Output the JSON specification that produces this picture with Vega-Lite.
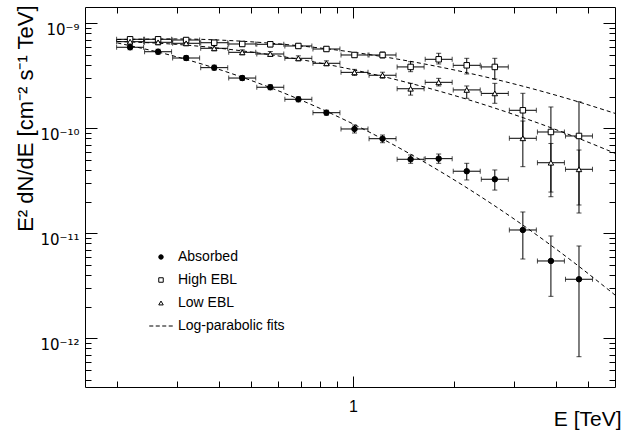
{
  "$schema": "https://vega.github.io/schema/vega-lite/v6.json",
  "width": 530,
  "height": 380,
  "autosize": {"type": "none"},
  "padding": {"left": 85, "top": 7, "right": 8, "bottom": 46},
  "background": "white",
  "config": {
    "font": "Liberation Sans",
    "view": {"stroke": "black", "strokeWidth": 1},
    "axis": {"domain": false, "grid": false, "tickColor": "black", "tickWidth": 1, "labelFont": "Liberation Sans", "titleFont": "Liberation Sans", "labelColor": "black", "titleColor": "black", "titleFontWeight": "normal", "labelFlush": false, "labelOverlap": false, "labelBound": false}
  },
  "datasets": {
    "pts": [
      {"s": "Absorbed", "E": 0.2182, "Elo": 0.1990, "Ehi": 0.2393, "v": 5.91e-10, "vlo": 5.60e-10, "vhi": 6.24e-10},
      {"s": "Absorbed", "E": 0.2642, "Elo": 0.2409, "Ehi": 0.2897, "v": 5.36e-10, "vlo": 5.07e-10, "vhi": 5.66e-10},
      {"s": "Absorbed", "E": 0.3200, "Elo": 0.2918, "Ehi": 0.3509, "v": 4.67e-10, "vlo": 4.42e-10, "vhi": 4.93e-10},
      {"s": "Absorbed", "E": 0.3877, "Elo": 0.3535, "Ehi": 0.4252, "v": 3.78e-10, "vlo": 3.58e-10, "vhi": 3.99e-10},
      {"s": "Absorbed", "E": 0.4695, "Elo": 0.4281, "Ehi": 0.5149, "v": 3.01e-10, "vlo": 2.85e-10, "vhi": 3.18e-10},
      {"s": "Absorbed", "E": 0.5687, "Elo": 0.5186, "Ehi": 0.6236, "v": 2.46e-10, "vlo": 2.33e-10, "vhi": 2.60e-10},
      {"s": "Absorbed", "E": 0.6889, "Elo": 0.6282, "Ehi": 0.7555, "v": 1.889e-10, "vlo": 1.788e-10, "vhi": 1.995e-10},
      {"s": "Absorbed", "E": 0.8346, "Elo": 0.7611, "Ehi": 0.9152, "v": 1.408e-10, "vlo": 1.333e-10, "vhi": 1.487e-10},
      {"s": "Absorbed", "E": 1.011, "Elo": 0.9219, "Ehi": 1.1087, "v": 9.85e-11, "vlo": 9.02e-11, "vhi": 1.075e-10},
      {"s": "Absorbed", "E": 1.2246, "Elo": 1.1167, "Ehi": 1.3429, "v": 7.96e-11, "vlo": 7.29e-11, "vhi": 8.63e-11},
      {"s": "Absorbed", "E": 1.4834, "Elo": 1.3527, "Ehi": 1.6267, "v": 5.07e-11, "vlo": 4.64e-11, "vhi": 5.57e-11},
      {"s": "Absorbed", "E": 1.7970, "Elo": 1.6387, "Ehi": 1.9706, "v": 5.14e-11, "vlo": 4.64e-11, "vhi": 5.69e-11},
      {"s": "Absorbed", "E": 2.1767, "Elo": 1.9849, "Ehi": 2.3870, "v": 3.90e-11, "vlo": 3.22e-11, "vhi": 4.64e-11},
      {"s": "Absorbed", "E": 2.6370, "Elo": 2.4047, "Ehi": 2.8917, "v": 3.27e-11, "vlo": 2.58e-11, "vhi": 4.01e-11},
      {"s": "Absorbed", "E": 3.1938, "Elo": 2.9124, "Ehi": 3.5023, "v": 1.075e-11, "vlo": 5.69e-12, "vhi": 1.596e-11},
      {"s": "Absorbed", "E": 3.8690, "Elo": 3.5282, "Ehi": 4.2428, "v": 5.45e-12, "vlo": 2.51e-12, "vhi": 9.43e-12},
      {"s": "Absorbed", "E": 4.6870, "Elo": 4.2741, "Ehi": 5.1398, "v": 3.65e-12, "vlo": 6.68e-13, "vhi": 7.57e-12},
      {"s": "High EBL", "E": 0.2182, "Elo": 0.1990, "Ehi": 0.2393, "v": 7.04e-10, "vlo": 6.67e-10, "vhi": 7.43e-10},
      {"s": "High EBL", "E": 0.2642, "Elo": 0.2409, "Ehi": 0.2897, "v": 7.04e-10, "vlo": 6.67e-10, "vhi": 7.43e-10},
      {"s": "High EBL", "E": 0.3200, "Elo": 0.2918, "Ehi": 0.3509, "v": 6.93e-10, "vlo": 6.56e-10, "vhi": 7.32e-10},
      {"s": "High EBL", "E": 0.3877, "Elo": 0.3535, "Ehi": 0.4252, "v": 6.53e-10, "vlo": 6.18e-10, "vhi": 6.90e-10},
      {"s": "High EBL", "E": 0.4695, "Elo": 0.4281, "Ehi": 0.5149, "v": 6.35e-10, "vlo": 6.01e-10, "vhi": 6.71e-10},
      {"s": "High EBL", "E": 0.5687, "Elo": 0.5186, "Ehi": 0.6236, "v": 6.31e-10, "vlo": 5.97e-10, "vhi": 6.66e-10},
      {"s": "High EBL", "E": 0.6889, "Elo": 0.6282, "Ehi": 0.7555, "v": 6.08e-10, "vlo": 5.76e-10, "vhi": 6.42e-10},
      {"s": "High EBL", "E": 0.8346, "Elo": 0.7611, "Ehi": 0.9152, "v": 5.69e-10, "vlo": 5.39e-10, "vhi": 6.01e-10},
      {"s": "High EBL", "E": 1.011, "Elo": 0.9219, "Ehi": 1.1087, "v": 4.99e-10, "vlo": 4.72e-10, "vhi": 5.27e-10},
      {"s": "High EBL", "E": 1.2246, "Elo": 1.1167, "Ehi": 1.3429, "v": 4.99e-10, "vlo": 4.67e-10, "vhi": 5.33e-10},
      {"s": "High EBL", "E": 1.4834, "Elo": 1.3527, "Ehi": 1.6267, "v": 3.84e-10, "vlo": 3.46e-10, "vhi": 4.31e-10},
      {"s": "High EBL", "E": 1.7970, "Elo": 1.6387, "Ehi": 1.9706, "v": 4.54e-10, "vlo": 4.10e-10, "vhi": 5.18e-10},
      {"s": "High EBL", "E": 2.1767, "Elo": 1.9849, "Ehi": 2.3870, "v": 3.98e-10, "vlo": 3.29e-10, "vhi": 4.64e-10},
      {"s": "High EBL", "E": 2.6370, "Elo": 2.4047, "Ehi": 2.8917, "v": 3.84e-10, "vlo": 2.95e-10, "vhi": 4.64e-10},
      {"s": "High EBL", "E": 3.1938, "Elo": 2.9124, "Ehi": 3.5023, "v": 1.484e-10, "vlo": 8.08e-11, "vhi": 2.154e-10},
      {"s": "High EBL", "E": 3.8690, "Elo": 3.5282, "Ehi": 4.2428, "v": 9.22e-11, "vlo": 2.47e-11, "vhi": 1.596e-10},
      {"s": "High EBL", "E": 4.6870, "Elo": 4.2741, "Ehi": 5.1398, "v": 8.45e-11, "vlo": 1.86e-11, "vhi": 1.792e-10},
      {"s": "Low EBL", "E": 0.2182, "Elo": 0.1990, "Ehi": 0.2393, "v": 6.68e-10, "vlo": 6.32e-10, "vhi": 7.06e-10},
      {"s": "Low EBL", "E": 0.2642, "Elo": 0.2409, "Ehi": 0.2897, "v": 6.59e-10, "vlo": 6.24e-10, "vhi": 6.96e-10},
      {"s": "Low EBL", "E": 0.3200, "Elo": 0.2918, "Ehi": 0.3509, "v": 6.45e-10, "vlo": 6.11e-10, "vhi": 6.81e-10},
      {"s": "Low EBL", "E": 0.3877, "Elo": 0.3535, "Ehi": 0.4252, "v": 5.78e-10, "vlo": 5.47e-10, "vhi": 6.11e-10},
      {"s": "Low EBL", "E": 0.4695, "Elo": 0.4281, "Ehi": 0.5149, "v": 5.29e-10, "vlo": 5.01e-10, "vhi": 5.59e-10},
      {"s": "Low EBL", "E": 0.5687, "Elo": 0.5186, "Ehi": 0.6236, "v": 5.10e-10, "vlo": 4.83e-10, "vhi": 5.39e-10},
      {"s": "Low EBL", "E": 0.6889, "Elo": 0.6282, "Ehi": 0.7555, "v": 4.64e-10, "vlo": 4.39e-10, "vhi": 4.90e-10},
      {"s": "Low EBL", "E": 0.8346, "Elo": 0.7611, "Ehi": 0.9152, "v": 4.16e-10, "vlo": 3.94e-10, "vhi": 4.39e-10},
      {"s": "Low EBL", "E": 1.011, "Elo": 0.9219, "Ehi": 1.1087, "v": 3.41e-10, "vlo": 3.19e-10, "vhi": 3.64e-10},
      {"s": "Low EBL", "E": 1.2246, "Elo": 1.1167, "Ehi": 1.3429, "v": 3.20e-10, "vlo": 3.00e-10, "vhi": 3.42e-10},
      {"s": "Low EBL", "E": 1.4834, "Elo": 1.3527, "Ehi": 1.6267, "v": 2.38e-10, "vlo": 2.07e-10, "vhi": 2.68e-10},
      {"s": "Low EBL", "E": 1.7970, "Elo": 1.6387, "Ehi": 1.9706, "v": 2.74e-10, "vlo": 2.53e-10, "vhi": 2.99e-10},
      {"s": "Low EBL", "E": 2.1767, "Elo": 1.9849, "Ehi": 2.3870, "v": 2.32e-10, "vlo": 1.93e-10, "vhi": 2.53e-10},
      {"s": "Low EBL", "E": 2.6370, "Elo": 2.4047, "Ehi": 2.8917, "v": 2.15e-10, "vlo": 1.73e-10, "vhi": 2.68e-10},
      {"s": "Low EBL", "E": 3.1938, "Elo": 2.9124, "Ehi": 3.5023, "v": 8.03e-11, "vlo": 4.31e-11, "vhi": 1.173e-10},
      {"s": "Low EBL", "E": 3.8690, "Elo": 3.5282, "Ehi": 4.2428, "v": 4.70e-11, "vlo": 2.23e-11, "vhi": 7.17e-11},
      {"s": "Low EBL", "E": 4.6870, "Elo": 4.2741, "Ehi": 5.1398, "v": 4.07e-11, "vlo": 1.56e-11, "vhi": 6.21e-11}
    ],
    "fits": [
      {"s": "Absorbed", "E": 0.2, "v": 6.502e-10},
      {"s": "Absorbed", "E": 0.3, "v": 4.794e-10},
      {"s": "Absorbed", "E": 0.45, "v": 3.210e-10},
      {"s": "Absorbed", "E": 0.7, "v": 1.860e-10},
      {"s": "Absorbed", "E": 1.0, "v": 1.102e-10},
      {"s": "Absorbed", "E": 1.5, "v": 5.548e-11},
      {"s": "Absorbed", "E": 2.2, "v": 2.659e-11},
      {"s": "Absorbed", "E": 3.2, "v": 1.192e-11},
      {"s": "Absorbed", "E": 4.5, "v": 5.346e-12},
      {"s": "Absorbed", "E": 6.0, "v": 2.578e-12},
      {"s": "High EBL", "E": 0.2, "v": 7.005e-10},
      {"s": "High EBL", "E": 0.3, "v": 7.096e-10},
      {"s": "High EBL", "E": 0.45, "v": 6.797e-10},
      {"s": "High EBL", "E": 0.7, "v": 6.087e-10},
      {"s": "High EBL", "E": 1.0, "v": 5.306e-10},
      {"s": "High EBL", "E": 1.5, "v": 4.307e-10},
      {"s": "High EBL", "E": 2.2, "v": 3.361e-10},
      {"s": "High EBL", "E": 3.2, "v": 2.513e-10},
      {"s": "High EBL", "E": 4.5, "v": 1.851e-10},
      {"s": "High EBL", "E": 6.0, "v": 1.386e-10},
      {"s": "Low EBL", "E": 0.2, "v": 6.711e-10},
      {"s": "Low EBL", "E": 0.3, "v": 6.296e-10},
      {"s": "Low EBL", "E": 0.45, "v": 5.552e-10},
      {"s": "Low EBL", "E": 0.7, "v": 4.510e-10},
      {"s": "Low EBL", "E": 1.0, "v": 3.615e-10},
      {"s": "Low EBL", "E": 1.5, "v": 2.653e-10},
      {"s": "Low EBL", "E": 2.2, "v": 1.872e-10},
      {"s": "Low EBL", "E": 3.2, "v": 1.261e-10},
      {"s": "Low EBL", "E": 4.5, "v": 8.414e-11},
      {"s": "Low EBL", "E": 6.0, "v": 5.776e-11}
    ]
  },
  "resolve": {"axis": {"x": "independent", "y": "independent"}},
  "layer": [
    {
      "data": {"name": "fits"},
      "mark": {"type": "line", "strokeDash": [4, 3], "strokeWidth": 1, "color": "black", "interpolate": "monotone", "clip": true},
      "encoding": {
        "x": {"field": "E", "type": "quantitative", "scale": {"type": "log", "domain": [0.16034, 5.9945], "nice": false, "zero": false},
          "axis": {"orient": "bottom", "values": [1], "tickSize": -11, "labelExpr": "'1'", "labelFontSize": 16, "labelPadding": 35, "labelBaseline": "alphabetic", "labelAlign": "center",
            "title": "E [TeV]", "titleFontSize": 21, "titleX": 536, "titleY": 38, "titleAlign": "right", "titleBaseline": "alphabetic", "titleAngle": 0}},
        "y": {"field": "v", "type": "quantitative", "scale": {"type": "log", "domain": [3.437e-13, 1.4293e-9], "nice": false, "zero": false},
          "axis": {"orient": "left", "values": [1e-12, 1e-11, 1e-10, 1e-9], "tickSize": -12, "labelFont": "DejaVu Sans", "labelFontSize": 15, "labelPadding": 18, "labelBaseline": "alphabetic", "labelOffset": 11, "labelAlign": "right",
            "labelExpr": "datum.value < 5e-12 ? '10⁻¹²' : datum.value < 5e-11 ? '10⁻¹¹' : datum.value < 5e-10 ? '10⁻¹⁰' : '10⁻⁹'",
            "title": "E² dN/dE [cm⁻² s⁻¹ TeV]", "titleFontSize": 22, "titleAngle": 270, "titleX": -53, "titleY": -2, "titleAlign": "right", "titleBaseline": "alphabetic"}},
        "detail": {"field": "s", "type": "nominal"}
      }
    },
    {
      "data": {"name": "pts"},
      "mark": {"type": "errorbar", "ticks": true, "size": 5, "thickness": 1, "color": "black", "clip": true},
      "encoding": {
        "x": {"field": "Elo", "type": "quantitative", "scale": {"type": "log", "domain": [0.16034, 5.9945], "nice": false, "zero": false},
          "axis": {"orient": "bottom", "values": [0.2, 0.3, 0.4, 0.5, 0.6, 0.7, 0.8, 0.9, 2, 3, 4, 5], "tickSize": -6, "labels": false, "title": null}},
        "x2": {"field": "Ehi"},
        "y": {"field": "v", "type": "quantitative", "scale": {"type": "log", "domain": [3.437e-13, 1.4293e-9], "nice": false, "zero": false},
          "axis": {"orient": "left", "values": [4e-13, 5e-13, 6e-13, 7e-13, 8e-13, 9e-13, 2e-12, 3e-12, 4e-12, 5e-12, 6e-12, 7e-12, 8e-12, 9e-12, 2e-11, 3e-11, 4e-11, 5e-11, 6e-11, 7e-11, 8e-11, 9e-11, 2e-10, 3e-10, 4e-10, 5e-10, 6e-10, 7e-10, 8e-10, 9e-10], "tickSize": -6, "labels": false, "title": null}}
      }
    },
    {
      "data": {"name": "pts"},
      "mark": {"type": "errorbar", "ticks": true, "size": 5, "thickness": 1, "color": "black", "clip": true},
      "encoding": {
        "x": {"field": "E", "type": "quantitative", "scale": {"type": "log", "domain": [0.16034, 5.9945], "nice": false, "zero": false},
          "axis": {"orient": "top", "values": [1], "tickSize": -11, "labels": false, "title": null}},
        "y": {"field": "vlo", "type": "quantitative", "scale": {"type": "log", "domain": [3.437e-13, 1.4293e-9], "nice": false, "zero": false},
          "axis": {"orient": "right", "values": [1e-12, 1e-11, 1e-10, 1e-9], "tickSize": -12, "labels": false, "title": null}},
        "y2": {"field": "vhi"}
      }
    },
    {
      "data": {"name": "pts"},
      "mark": {"type": "point", "filled": true, "strokeWidth": 1, "size": 30, "opacity": 1},
      "encoding": {
        "x": {"field": "E", "type": "quantitative", "scale": {"type": "log", "domain": [0.16034, 5.9945], "nice": false, "zero": false},
          "axis": {"orient": "top", "values": [0.2, 0.3, 0.4, 0.5, 0.6, 0.7, 0.8, 0.9, 2, 3, 4, 5], "tickSize": -6, "labels": false, "title": null}},
        "y": {"field": "v", "type": "quantitative", "scale": {"type": "log", "domain": [3.437e-13, 1.4293e-9], "nice": false, "zero": false},
          "axis": {"orient": "right", "values": [4e-13, 5e-13, 6e-13, 7e-13, 8e-13, 9e-13, 2e-12, 3e-12, 4e-12, 5e-12, 6e-12, 7e-12, 8e-12, 9e-12, 2e-11, 3e-11, 4e-11, 5e-11, 6e-11, 7e-11, 8e-11, 9e-11, 2e-10, 3e-10, 4e-10, 5e-10, 6e-10, 7e-10, 8e-10, 9e-10], "tickSize": -6, "labels": false, "title": null}},
        "shape": {"field": "s", "type": "nominal",
          "scale": {"domain": ["Absorbed", "High EBL", "Low EBL", "Log-parabolic fits"], "range": ["circle", "square", "triangle-up", "M-5.25,0H-3.45M-2.35,0H-0.55M0.55,0H2.35M3.45,0H5.25"]},
          "legend": {"orient": "none", "legendX": 69, "legendY": 243, "title": null, "padding": 0, "symbolSize": 20, "symbolStrokeWidth": 1, "labelFont": "Liberation Sans", "labelFontSize": 14, "labelColor": "black", "labelOffset": 10, "rowPadding": 9}},
        "fill": {"field": "s", "type": "nominal",
          "scale": {"domain": ["Absorbed", "High EBL", "Low EBL", "Log-parabolic fits"], "range": ["black", "white", "white", "transparent"]},
          "legend": {"orient": "none", "legendX": 69, "legendY": 243, "title": null, "padding": 0, "symbolSize": 20, "symbolStrokeWidth": 1, "labelFont": "Liberation Sans", "labelFontSize": 14, "labelColor": "black", "labelOffset": 10, "rowPadding": 9}},
        "stroke": {"field": "s", "type": "nominal",
          "scale": {"domain": ["Absorbed", "High EBL", "Low EBL", "Log-parabolic fits"], "range": ["black", "black", "black", "black"]},
          "legend": {"orient": "none", "legendX": 69, "legendY": 243, "title": null, "padding": 0, "symbolSize": 20, "symbolStrokeWidth": 1, "labelFont": "Liberation Sans", "labelFontSize": 14, "labelColor": "black", "labelOffset": 10, "rowPadding": 9}}
      }
    }
  ]
}
